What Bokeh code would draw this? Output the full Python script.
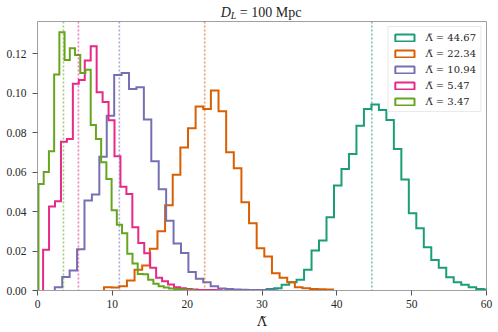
import numpy as np
from bokeh.plotting import figure
from bokeh.layouts import column
from bokeh.models import Span, Legend, LegendItem, FixedTicker, Range1d, Div
from bokeh.embed import file_html
from bokeh.resources import INLINE

# ---------------- data ----------------
lambda_true = [44.67, 22.34, 10.94, 5.47, 3.47]
series_colors = ["#1b9e77", "#d95f02", "#7570b3", "#e7298a", "#66a61e"]
# left edge of the first bin and the bin width of each histogram
bin_start = [30.62, 8.89, 2.31, 0.75, 0.13]
bin_width = [1.0, 1.02, 0.992, 0.795, 0.698]

dens_44 = [0.0008, 0.0012, 0.0029, 0.0042, 0.0054, 0.0105, 0.0203, 0.0253, 0.0371, 0.0532,
           0.0616, 0.0692, 0.0835, 0.0920, 0.0942, 0.0915, 0.0864, 0.0717, 0.0562, 0.0391,
           0.0315, 0.0219, 0.0155, 0.0115, 0.0067, 0.0042, 0.0029, 0.0017, 0.0008, 0.0005]
dens_22 = [0.0017, 0.0015, 0.0022, 0.0051, 0.0105, 0.0127, 0.0211, 0.0300, 0.0432, 0.0586,
           0.0724, 0.0822, 0.0932, 0.0920, 0.1013, 0.0908, 0.0700, 0.0619, 0.0447, 0.0341,
           0.0214, 0.0172, 0.0088, 0.0064, 0.0042, 0.0017, 0.0012, 0.0008, 0.0006, 0.0005]
dens_11 = [0.0017, 0.0068, 0.0101, 0.0209, 0.0456, 0.0486, 0.0678, 0.0886, 0.1092, 0.1102,
           0.1021, 0.1030, 0.0866, 0.0655, 0.0513, 0.0354, 0.0238, 0.0190, 0.0094, 0.0060,
           0.0042, 0.0022, 0.0010, 0.0007, 0.0005, 0.0004, 0.0003, 0.0002, 0.0002, 0.0001]
dens_5 = [0.0206, 0.0425, 0.0452, 0.0754, 0.0768, 0.1048, 0.1066, 0.1165, 0.1237, 0.1004,
          0.0955, 0.0863, 0.0680, 0.0526, 0.0489, 0.0320, 0.0241, 0.0189, 0.0115, 0.0064,
          0.0047, 0.0030, 0.0017, 0.0012, 0.0008, 0.0005, 0.0003, 0.0002, 0.0002, 0.0001]
dens_3 = [0.0540, 0.0600, 0.0705, 0.1095, 0.1308, 0.1168, 0.1227, 0.1193, 0.1102, 0.1119,
          0.0839, 0.0768, 0.0650, 0.0565, 0.0407, 0.0333, 0.0290, 0.0186, 0.0137, 0.0084,
          0.0082, 0.0054, 0.0034, 0.0022, 0.0015, 0.0010, 0.0008, 0.0005, 0.0003, 0.0002]
densities = [dens_44, dens_22, dens_11, dens_5, dens_3]

x_ticks = [0, 10, 20, 30, 40, 50, 60]
x_tick_labels = ["0", "10", "20", "30", "40", "50", "60"]
y_ticks = [0.0, 0.02, 0.04, 0.06, 0.08, 0.10, 0.12]
y_tick_labels = ["0.00", "0.02", "0.04", "0.06", "0.08", "0.10", "0.12"]
x_label = "\u039b\u0303"
legend_labels = ["\u039b\u0303 = %.2f" % v for v in lambda_true]
title_parts = ["D", "L", " = 100 Mpc"]

SERIF = "Liberation Serif"
TEXT = "#262626"
SPINE = "#a0a0a0"

# ---------------- title (real HTML text) ----------------
title_html = (
    '<div style="width:498px;height:21px;text-align:center;white-space:nowrap;'
    "font-family:'Liberation Serif',serif;font-size:14px;line-height:21px;color:%s;\">"
    '<span style="position:relative;left:12px;top:1.5px;">'
    '<i>%s</i><sub style="font-size:10px;line-height:0;vertical-align:-1.8px;"><i>%s</i></sub>%s'
    '</span></div>' % (TEXT, title_parts[0], title_parts[1], title_parts[2].replace(" ", "&nbsp;", 1))
)
t = Div(text=title_html, width=498, height=21, margin=(0, 0, 0, 0))

# ---------------- main figure ----------------
p = figure(width=498, height=311, x_range=Range1d(0, 60), y_range=Range1d(0, 0.1363),
           output_backend="svg", toolbar_location=None,
           min_border_left=37, min_border_right=12, min_border_top=0, min_border_bottom=42)
p.background_fill_color = "white"
p.border_fill_color = "white"
p.outline_line_color = SPINE
p.outline_line_width = 1
p.xgrid.visible = False
p.ygrid.visible = False

p.xaxis.ticker = FixedTicker(ticks=x_ticks)
p.yaxis.ticker = FixedTicker(ticks=y_ticks)
p.xaxis.major_label_overrides = dict(zip(x_ticks, x_tick_labels))
p.yaxis.major_label_overrides = dict(zip(y_ticks, y_tick_labels))
for ax in (p.xaxis, p.yaxis):
    ax.axis_line_color = SPINE
    ax.major_tick_line_color = "#555555"
    ax.major_tick_in = 0
    ax.major_tick_out = 5
    ax.minor_tick_line_color = None
    ax.major_label_text_font = SERIF
    ax.major_label_text_font_size = "11.5px"
    ax.major_label_text_color = TEXT
p.yaxis.major_label_standoff = 6
p.xaxis.major_label_standoff = 4
p.xaxis.axis_label = x_label
p.xaxis.axis_label_text_font = "DejaVu Serif"
p.xaxis.axis_label_text_font_style = "normal"
p.xaxis.axis_label_text_font_size = "13px"
p.xaxis.axis_label_text_color = TEXT
p.xaxis.axis_label_standoff = 3

# step histograms
legend_items = []
for dens, x0, w, col, lab in zip(densities, bin_start, bin_width, series_colors, legend_labels):
    h = np.asarray(dens)
    edges = x0 + w * np.arange(len(h) + 1)
    xs = np.repeat(edges, 2)
    ys = np.concatenate([[0.0], np.repeat(h, 2), [0.0]])
    p.line(xs, ys, line_color=col, line_width=2, line_join="miter")
    # legend proxy (a single box placed outside the visible range)
    proxy = p.quad(left=[-20], right=[-19], top=[1], bottom=[0.9], fill_color="white",
                   line_color=col, line_width=2)
    legend_items.append(LegendItem(label=lab, renderers=[proxy]))

# dotted true-value lines
for v, col in zip(lambda_true, series_colors):
    p.add_layout(Span(location=v, dimension="height", line_color=col, line_alpha=0.6,
                      line_width=1.6, line_dash="2 2"))

legend = Legend(items=legend_items, location="top_right", margin=5, padding=4, spacing=4,
                glyph_width=24, glyph_height=9, label_standoff=9, label_height=12,
                label_text_font="DejaVu Serif", label_text_font_size="10px",
                label_text_color=TEXT,
                border_line_color="#d6d6d6", border_line_width=1,
                background_fill_color="white", background_fill_alpha=0.85)
p.add_layout(legend)

layout = column(t, p, spacing=0)
open("out.html", "w").write(file_html(layout, INLINE))
